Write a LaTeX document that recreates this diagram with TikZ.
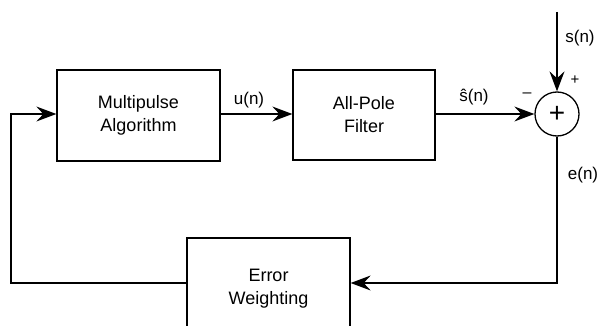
\documentclass[tikz,border=0pt]{standalone}
\usepackage{fontspec}
\setmainfont{Liberation Sans}
\usetikzlibrary{arrows.meta}
\begin{document}
\begin{tikzpicture}[x=1pt,y=-1pt,
  blk/.style={draw,line width=1.3pt,inner sep=0pt,align=center,font=\fontsize{18}{23}\selectfont},
  lbl/.style={font=\fontsize{17}{19}\selectfont,inner sep=0pt},
  conn/.style={line width=1.4pt,-{Stealth[length=20pt,width=15pt,inset=7pt]}},
  wire/.style={line width=1.4pt}]
\useasboundingbox (0,0) rectangle (599,326);
\clip (0,0) rectangle (599,326);
\node[blk,minimum width=163pt,minimum height=91pt] (mp) at (138.5,115.5) {Multipulse\\Algorithm};
\node[blk,minimum width=142pt,minimum height=90pt] (ap) at (364,115) {All-Pole\\Filter};
\node[blk,minimum width=163pt,minimum height=102pt] (ew) at (268.5,289) {Error\\Weighting};
\node[draw,circle,line width=1.3pt,minimum size=44pt,inner sep=0pt,font=\fontsize{28}{28}\selectfont] (sum) at (557,114) {+};
\coordinate (sin) at (557,12);
\coordinate (fbl) at (11,283);
\coordinate (fbt) at (11,114);
\coordinate (er) at (557,283);
\draw[conn] (mp.east |- 0,114) -- (ap.west |- 0,114);
\draw[conn] (ap.east |- 0,114) -- (sum.west);
\draw[conn] (sin) -- (sum.north);
\draw[conn] (sum.south) -- (er) -- (ew.east |- er);
\draw[conn] (ew.west |- fbl) -- (fbl) -- (fbt) -- (mp.west |- fbt);
\node[lbl] (un) at (249,100) {u(n)};
\node[lbl] (sh) at (474,97) {ŝ(n)};
\node[lbl] (sn) at (580,38) {s(n)};
\node[lbl] (en) at (583,175) {e(n)};
\node[lbl,font=\fontsize{16}{16}\selectfont] (mn) at (527,95) {--};
\node[lbl,font=\fontsize{15}{15}\selectfont] (pl) at (575,80) {+};
\end{tikzpicture}
\end{document}
